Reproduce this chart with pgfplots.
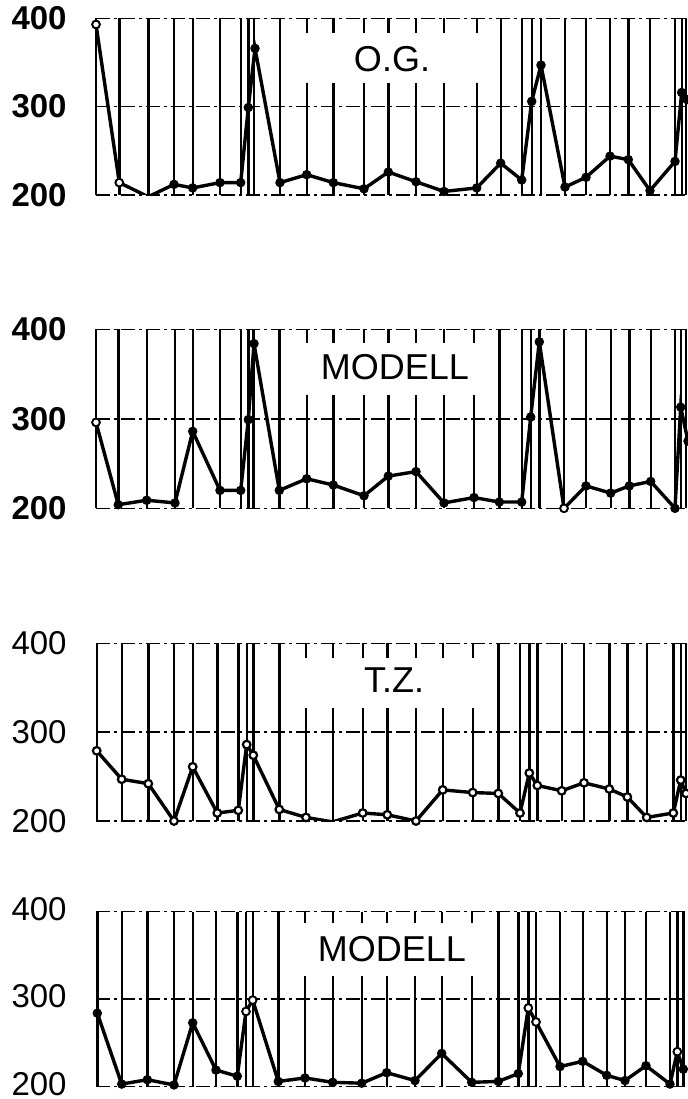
\documentclass[border=0pt]{standalone}
\usepackage{fontspec}
\setmainfont{Liberation Sans}
\usepackage{pgfplots}
\pgfplotsset{compat=1.18}
\tikzset{boxlabel/.style={font=\fontsize{18}{18}\selectfont}}
\pgfplotsset{
  panel/.style={
    scale only axis, width=302pt, xmin=96, xmax=700, ymin=200, ymax=400,
    axis line style={draw=none}, tick style={draw=none},
    xticklabels={}, ytick={200,300,400}, yticklabels={200,300,400},
    yticklabel style={inner sep=0.5pt, xshift=-14pt},
    xmajorgrids, major grid style={black, line width=1.2pt},
    extra y ticks={200,300,400}, extra y tick labels={},
    extra y tick style={grid=major, major grid style={black, line width=0.75pt, dash pattern=on 7pt off 2pt on 1.5pt off 2pt}},
  },
  dataline/.style={black, line width=1.7pt, mark=*, mark size=1.9pt, mark options={solid, fill=black, line width=0.9pt}},
}
\begin{document}
\begin{tikzpicture}
\useasboundingbox (0,0) rectangle (344pt,549.5pt);
% Panel 1: O.G.
\begin{axis}[panel, height=88.35pt, at={(48pt,452pt)}, anchor=south west,
  yticklabel style={font=\fontsize{16.5}{16.5}\selectfont\bfseries},
  xtick={96,119.3,148.3,174,192.7,220,240.7,248.3,254,280,306.7,333.3,364,388.3,416,444,476.7,500.7,521.7,531.7,541,565,586,610,628.3,650,675,681.7,686}]
\addplot[dataline] coordinates {(96,393)(119.3,214)(148.3,198)(174,212)(192.7,208)(220,214)(240.7,214)(248.3,299)(255,366)(280,214)(306.7,223)(333.3,214)(364,207)(388.3,226)(416,215)(444,204)(476.7,208)(500.7,236)(521.7,217)(531.7,306)(541,347)(565,209)(586,220)(610,244)(628.3,240)(650,205)(675,238)(681.7,316)(687,308)};
\addplot[only marks, mark=*, mark size=1.9pt, mark options={fill=white, draw=black, line width=0.9pt}] coordinates {(96,393)(119.3,214)};
\fill[white] (axis cs:293,327) rectangle (axis cs:490,383);
\node[boxlabel] at (axis cs:392,354) {O.G.};
\end{axis}
% Panel 2: MODELL
\begin{axis}[panel, height=89.5pt, at={(48pt,295.35pt)}, anchor=south west,
  yticklabel style={font=\fontsize{16.5}{16.5}\selectfont\bfseries},
  xtick={96,118.3,146.7,175,192.7,220,240.7,248.3,253.3,279.3,306.7,333.3,364,388.3,416,444,474,499.3,521.7,530.7,539.3,564,586,610.7,629.3,650.7,675,680.7,686}]
\addplot[dataline] coordinates {(96,296)(118.3,204)(146.7,209)(175,206)(192.7,286)(220,220)(240.7,220)(248.3,299)(254,384)(279.3,220)(306.7,233)(333.3,226)(364,214)(388.3,236)(416,241)(444,206)(474,212)(499.3,207)(521.7,207)(530.7,302)(539.3,386)(564,200)(586,225)(610.7,217)(629.3,225)(650.7,230)(675,200)(680.7,313)(688,275)};
\addplot[only marks, mark=*, mark size=1.9pt, mark options={fill=white, draw=black, line width=0.9pt}] coordinates {(96,296)(564,200)};
\fill[white] (axis cs:293,327) rectangle (axis cs:490,385);
\node[boxlabel] at (axis cs:395,358) {MODELL};
\end{axis}
% Panel 3: T.Z.
\begin{axis}[panel, height=88.85pt, at={(48pt,139pt)}, anchor=south west,
  yticklabel style={font=\fontsize{16.5}{16.5}\selectfont},
  xtick={96.7,121.7,148.3,174,192.7,217.3,238.3,246.7,253.3,279.3,306,332.7,362.7,387.3,416,442.7,472.7,498.3,520,529.3,537.3,561.7,584,609.3,627.3,646.7,673.3,680.7,686}]
\addplot[dataline, mark options={solid, fill=white, line width=1.1pt}] coordinates {(96.7,279)(121.7,247)(148.3,242)(174,200)(192.7,261)(217.3,209)(238.3,212)(246.7,286)(253.3,274)(279.3,213)(306,204)(332.7,199)(362.7,209)(387.3,207)(416,200)(442.7,235)(472.7,232)(498.3,231)(520,209)(529.3,254)(537.3,240)(561.7,234)(584,243)(609.3,236)(627.3,227)(646.7,204)(673.3,209)(680.7,246)(686,231)};
\fill[white] (axis cs:293,327) rectangle (axis cs:490,383);
\node[boxlabel] at (axis cs:394,358) {T.Z.};
\end{axis}
% Panel 4: MODELL
\begin{axis}[panel, height=87.5pt, at={(48pt,6.15pt)}, anchor=south west,
  yticklabel style={font=\fontsize{16.5}{16.5}\selectfont, yshift=1.5pt},
  xtick={97.3,121.7,147.3,174,192.7,216,237.3,246,252.7,278.3,305,332.7,361.7,386.7,415,441.7,471.7,498.3,518.3,528.3,536,560,582.7,606.7,625,646,670,677.3,683.3}]
\addplot[dataline] coordinates {(97.3,284)(121.7,203)(147.3,208)(174,202)(192.7,273)(216,219)(237.3,212)(246,286)(252.7,299)(278.3,206)(305,210)(332.7,205)(361.7,204)(386.7,216)(415,207)(441.7,238)(471.7,205)(498.3,206)(518.3,215)(528.3,290)(536,274)(560,223)(582.7,229)(606.7,213)(625,207)(646,224)(670,203)(677.3,240)(683.3,220)};
\addplot[only marks, mark=*, mark size=1.9pt, mark options={fill=white, draw=black, line width=0.9pt}] coordinates {(246,286)(252.7,299)(528.3,290)(536,274)(677.3,240)};
\fill[white] (axis cs:293,327) rectangle (axis cs:490,387);
\node[boxlabel] at (axis cs:392,357) {MODELL};
\end{axis}
\end{tikzpicture}
\end{document}
